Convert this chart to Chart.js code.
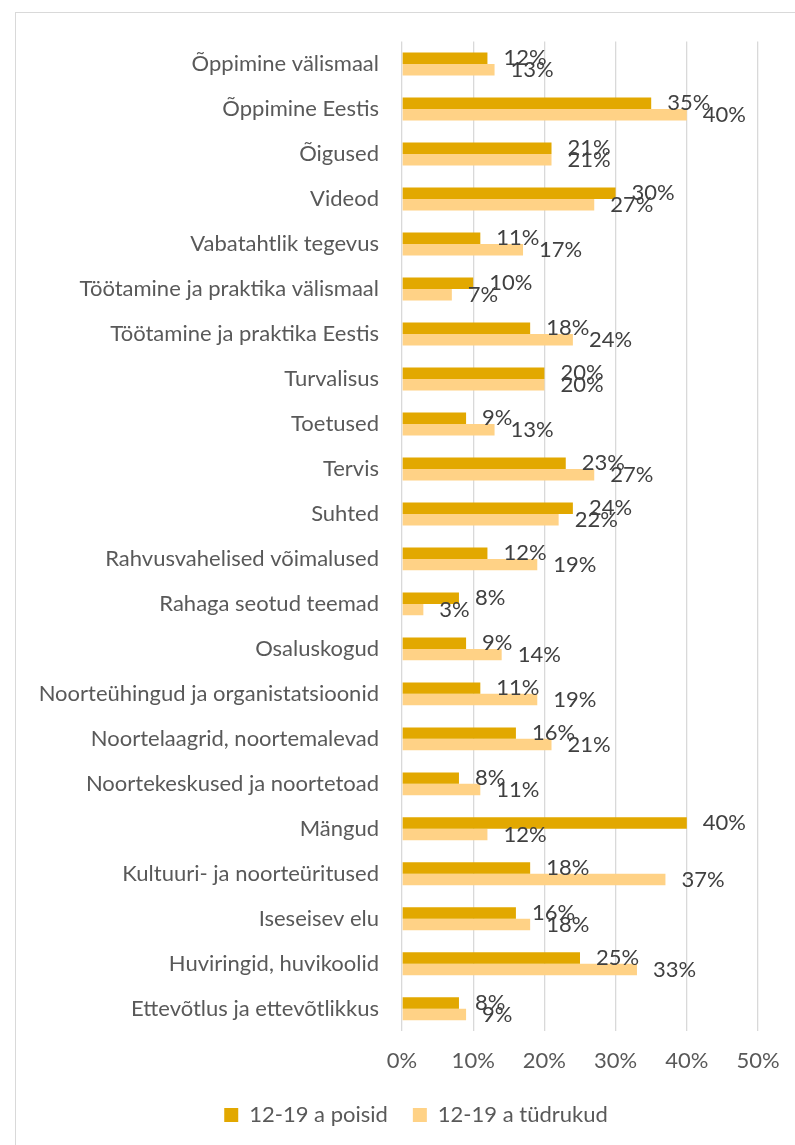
<!DOCTYPE html>
<html>
<head>
<meta charset="utf-8">
<script src="https://cdn.jsdelivr.net/npm/chart.js"></script>
<style>
  html, body { margin: 0; padding: 0; background: #fff; overflow: hidden; }
  #wrap {
    position: absolute; left: 15px; top: 12px;
    width: 800px; height: 1150px;
    border-left: 1px solid #d9d9d9; border-top: 1px solid #d9d9d9;
  }
</style>
</head>
<body>
<div id="wrap"><canvas id="myChart"></canvas></div>
<script>
// categories, top to bottom as in the picture
const categories = [
  'Õppimine välismaal',
  'Õppimine Eestis',
  'Õigused',
  'Videod',
  'Vabatahtlik tegevus',
  'Töötamine ja praktika välismaal',
  'Töötamine ja praktika Eestis',
  'Turvalisus',
  'Toetused',
  'Tervis',
  'Suhted',
  'Rahvusvahelised võimalused',
  'Rahaga seotud teemad',
  'Osaluskogud',
  'Noorteühingud ja organistatsioonid',
  'Noortelaagrid, noortemalevad',
  'Noortekeskused ja noortetoad',
  'Mängud',
  'Kultuuri- ja noorteüritused',
  'Iseseisev elu',
  'Huviringid, huvikoolid',
  'Ettevõtlus ja ettevõtlikkus'
];

const seriesNames = ['12-19 a poisid', '12-19 a tüdrukud'];

// percent values
const boys  = [12, 35, 21, 30, 11, 10, 18, 20,  9, 23, 24, 12, 8,  9, 11, 16,  8, 40, 18, 16, 25, 8];
const girls = [13, 40, 21, 27, 17,  7, 24, 20, 13, 27, 22, 19, 3, 14, 19, 21, 11, 12, 37, 18, 33, 9];

const xTicks = [0, 10, 20, 30, 40, 50];

const FONT = 'Lato, "Open Sans", sans-serif';
const FS = 22;

// draws the value labels right of each bar
const barLabels = {
  id: 'barLabels',
  afterDatasetsDraw(chart) {
    const ctx = chart.ctx;
    ctx.save();
    ctx.font = FS + 'px ' + FONT;
    ctx.fillStyle = '#404040';
    ctx.textAlign = 'left';
    ctx.textBaseline = 'middle';
    chart.data.datasets.forEach((ds, i) => {
      chart.getDatasetMeta(i).data.forEach((bar, j) => {
        ctx.fillText(ds.data[j] + '%', bar.x + 16, bar.y);
      });
    });
    ctx.restore();
  }
};

const canvas = document.getElementById('myChart');

const chart = new Chart(canvas, {
  type: 'bar',
  data: {
    labels: categories,
    datasets: [
      {
        label: seriesNames[0],
        backgroundColor: '#e2a800',
        data: boys,
        categoryPercentage: 0.51,
        barPercentage: 1.0
      },
      {
        label: seriesNames[1],
        backgroundColor: '#ffd286',
        data: girls,
        categoryPercentage: 0.51,
        barPercentage: 1.0
      }
    ]
  },
  options: {
    indexAxis: 'y',
    responsive: true,
    maintainAspectRatio: false,
    animation: false,
    layout: { padding: { top: 28.5, right: 0, bottom: 27, left: 0 } },
    scales: {
      x: {
        min: 0,
        max: 50,
        afterBuildTicks: (scale) => { scale.ticks = xTicks.map(v => ({ value: v })); },
        afterFit: (scale) => { scale.height = 47.7; },
        grid: { color: '#d9d9d9', lineWidth: 1.3, drawTicks: false },
        border: { display: false },
        ticks: {
          padding: 16,
          color: '#595959',
          font: { family: FONT, size: FS },
          callback: (v) => v + '%'
        }
      },
      y: {
        afterFit: (scale) => {
          scale.width = 386;
          scale.paddingTop = 0;
          scale.paddingBottom = 0;
        },
        grid: { display: false, drawTicks: false },
        border: { display: false },
        ticks: {
          padding: 23,
          autoSkip: false,
          color: '#595959',
          font: { family: FONT, size: FS }
        }
      },
      // empty right-hand space of the chart frame
      y2: {
        type: 'category',
        position: 'right',
        afterFit: (scale) => {
          scale.width = 58;
          scale.paddingTop = 0;
          scale.paddingBottom = 0;
        },
        grid: { display: false, drawTicks: false },
        border: { display: false },
        ticks: { display: false }
      }
    },
    plugins: {
      legend: {
        position: 'bottom',
        labels: {
          boxWidth: 14,
          boxHeight: 14,
          padding: 25,
          color: '#595959',
          font: { family: FONT, size: FS }
        }
      },
      tooltip: { enabled: false }
    }
  },
  plugins: [barLabels]
});
</script>
</body>
</html>
